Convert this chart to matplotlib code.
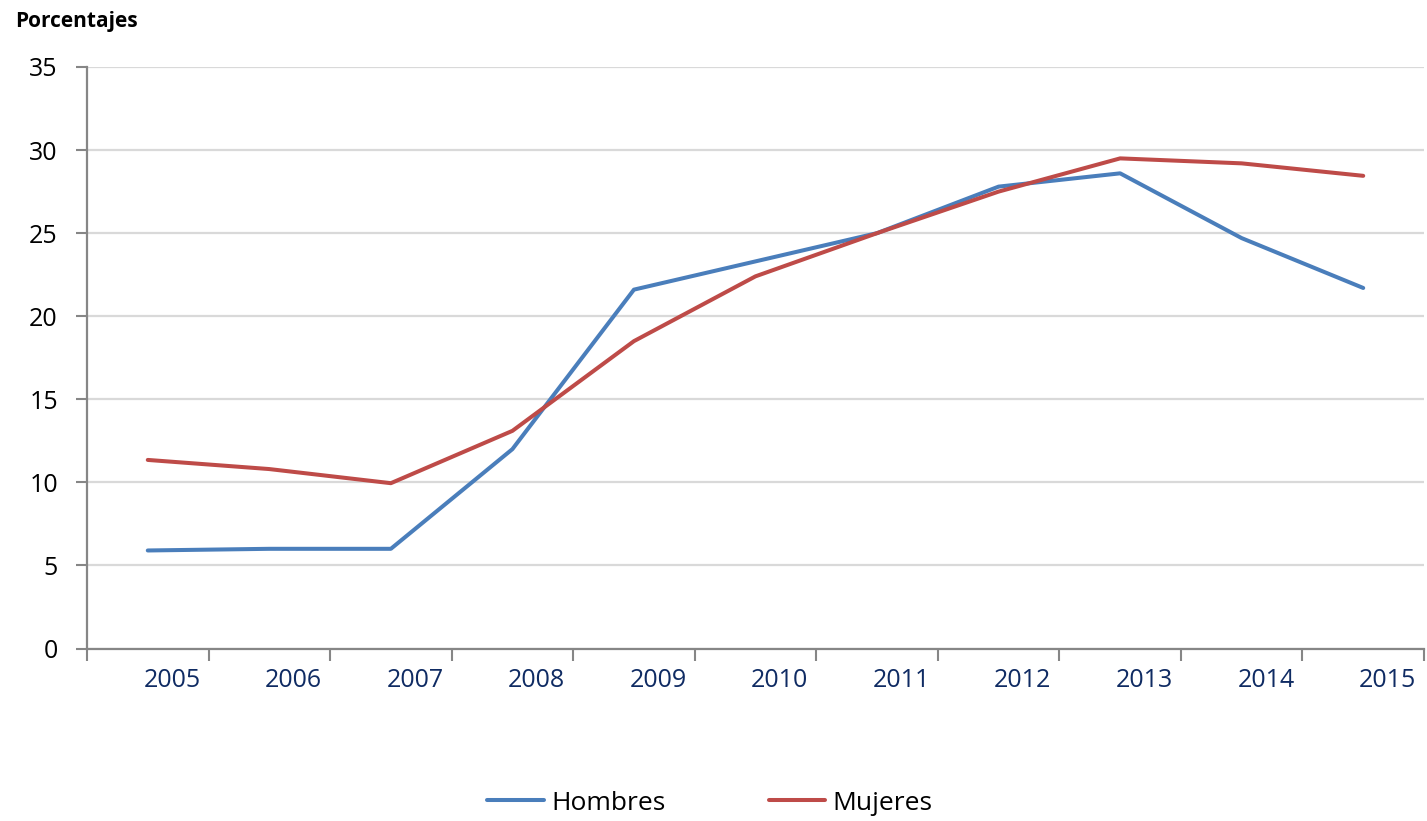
import matplotlib
matplotlib.use("Agg")
import matplotlib.pyplot as plt
import numpy as np

years = ["2005", "2006", "2007", "2008", "2009", "2010", "2011", "2012", "2013", "2014", "2015"]
hombres = [5.9, 6.0, 6.0, 12.0, 21.6, 23.3, 25.0, 27.8, 28.6, 24.7, 21.7]
mujeres = [11.35, 10.8, 9.95, 13.1, 18.5, 22.4, 25.0, 27.5, 29.5, 29.2, 28.45]
yticks = [0, 5, 10, 15, 20, 25, 30, 35]

plt.rcParams['font.family'] = ['Open Sans', 'DejaVu Sans']

W, H = 1427, 821
fig = plt.figure(figsize=(W / 100, H / 100), dpi=100)
left, right, bottom, top = 87, 1424, 648.5, 67
ax = fig.add_axes([left / W, 1 - bottom / H, (right - left) / W, (bottom - top) / H])

x = np.arange(len(years))
l1, = ax.plot(x, hombres, color="#4A7EBB", lw=2.9, solid_capstyle="round", solid_joinstyle="round", label="Hombres")
l2, = ax.plot(x, mujeres, color="#BE4B48", lw=2.9, solid_capstyle="round", solid_joinstyle="round", label="Mujeres")

ax.set_xlim(-0.5, len(years) - 0.5)
ax.set_ylim(0, 35)
ax.set_yticks(yticks)
ax.set_yticklabels([str(v) for v in yticks], fontsize=18, color="#000000")
ax.yaxis.grid(True, color="#D9D9D9", lw=1.6)
ax.set_axisbelow(True)

# major ticks on category boundaries, labels via minor ticks
ax.set_xticks(np.arange(len(years) + 1) - 0.5)
ax.set_xticklabels([])
ax.set_xticks(x + 0.2, minor=True)
ax.set_xticklabels(years, minor=True, fontsize=18, color="#0F2B63")
ax.tick_params(axis="x", which="minor", length=0, pad=14)
ax.tick_params(axis="x", which="major", length=8.5, width=1.5, color="#868686")
ax.tick_params(axis="y", length=8, width=1.5, color="#868686", pad=13)

for s in ["top", "right"]:
    ax.spines[s].set_visible(False)
for s in ["left", "bottom"]:
    ax.spines[s].set_color("#868686")
    ax.spines[s].set_linewidth(1.6)

fig.text(15 / W, 1 - 21 / H, "Porcentajes", fontsize=15, fontweight="bold", va="center", ha="left")

fig.legend(handles=[l1, l2], loc="center", bbox_to_anchor=(710 / W, 1 - 803 / H), ncol=2,
           frameon=False, fontsize=19, handlelength=2.15, handletextpad=0.28, columnspacing=3.9)

fig.savefig("out.png", dpi=100)
